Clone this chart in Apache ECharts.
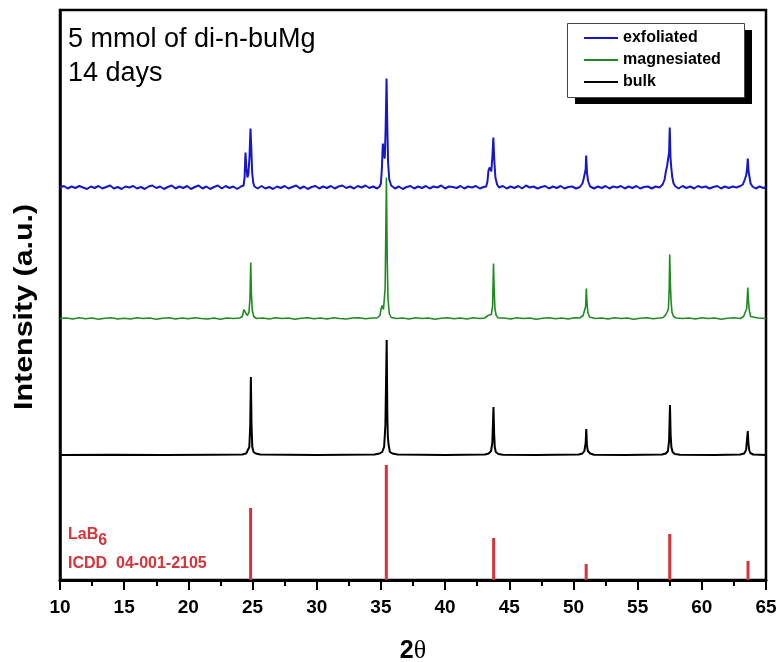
<!DOCTYPE html>
<html>
<head>
<meta charset="utf-8">
<script src="https://cdn.jsdelivr.net/npm/echarts@6/dist/echarts.min.js"></script>
<style>
html,body{margin:0;padding:0;background:#fff;}
#chart{width:780px;height:662px;}
</style>
</head>
<body>
<div id="chart"></div>
<script>
// ---- Data (2θ, intensity in a.u. above each trace's own baseline) ----
var seriesNames = ['exfoliated', 'magnesiated', 'bulk'];
var xTicks = [10, 15, 20, 25, 30, 35, 40, 45, 50, 55, 60, 65];

var exfoliated = [
[10.0,0],[10.3,1.5],[10.6,-1],[10.9,1],[11.2,-0.5],[11.5,1.5],[11.8,0],[12.1,-1.5],[12.4,1],[12.7,-0.5],[13.0,1.5],[13.3,-1],[13.6,0.5],[13.9,2],[14.2,-1],[14.5,0.5],[14.8,-1.5],[15.1,1],[15.4,0],[15.7,1.5],[16.0,-1],[16.3,0.5],[16.6,-1.5],[16.9,1],[17.2,2],[17.5,-0.5],[17.8,1],[18.1,-1.5],[18.4,0.5],[18.7,2],[19.0,-1],[19.3,1],[19.6,-0.5],[19.9,1.5],[20.2,-1.5],[20.5,0.5],[20.8,2],[21.1,-1],[21.4,1],[21.7,-1.5],[22.0,0.5],[22.3,2],[22.6,-1],[22.9,1.5],[23.2,-0.5],[23.5,1],[23.8,-1.5],[24.1,1],
[24.3,2],[24.38,10],[24.45,35],[24.52,20],[24.6,10],[24.68,14],[24.76,30],[24.84,59],[24.9,40],[24.97,15],[25.05,5],[25.15,1],
[25.4,-1],[25.7,1.5],[26.0,-1],[26.3,0.5],[26.6,-1.5],[26.9,1],[27.2,-0.5],[27.5,1.5],[27.8,-1],[28.1,0.5],[28.4,2],[28.7,-1],[29.0,1],[29.3,-1.5],[29.6,0.5],[29.9,1.5],[30.2,-1],[30.5,1],[30.8,-0.5],[31.1,1.5],[31.4,-1],[31.7,1],[32.0,2],[32.3,-0.5],[32.6,1],[32.9,-1],[33.2,1.5],[33.5,0],[33.8,2],[34.1,-0.5],[34.4,1],[34.7,-1],[34.9,1],
[35.0,4],[35.08,20],[35.15,44],[35.22,36],[35.3,29],[35.37,60],[35.44,109],[35.5,60],[35.56,25],[35.65,8],[35.8,2],
[36.1,-1],[36.4,1],[36.7,-1.5],[37.0,0.5],[37.3,1.5],[37.6,-1],[37.9,1],[38.2,-0.5],[38.5,1.5],[38.8,-1],[39.1,1],[39.4,0],[39.7,2],[40.0,-1],[40.3,1],[40.6,0.5],[40.9,-0.5],[41.2,1.5],[41.5,-1],[41.8,1],[42.1,0],[42.4,1.5],[42.7,-1],[43.0,0.5],[43.2,1],
[43.3,6],[43.38,17],[43.48,20],[43.6,16],[43.68,30],[43.76,50],[43.83,28],[43.92,10],[44.05,3],[44.2,0],
[44.5,1.5],[44.8,-1],[45.1,1],[45.4,-0.5],[45.7,1.5],[46.0,-1],[46.3,2],[46.6,0],[46.9,1],[47.2,-1],[47.5,0.5],[47.8,1.5],[48.1,-1],[48.4,1],[48.7,-0.5],[49.0,1.5],[49.3,-1],[49.6,0.5],[49.9,1],[50.2,-1],[50.5,0.5],
[50.7,4],[50.8,9],[50.9,10],[50.95,18],[50.99,32],[51.06,14],[51.15,6],[51.3,1],
[51.6,-1],[51.9,1],[52.2,-0.5],[52.5,1.5],[52.8,-1],[53.1,1],[53.4,0],[53.7,1.5],[54.0,-1],[54.3,1],[54.6,-0.5],[54.9,1.5],[55.2,-1],[55.5,0.5],[55.8,1],[56.1,-1],[56.4,1],[56.7,0],
[56.95,3],[57.1,8],[57.2,16],[57.3,22],[57.38,24],[57.45,35],[57.5,60],[57.56,30],[57.62,20],[57.7,10],[57.8,4],[57.95,1],
[58.2,-1],[58.5,1.5],[58.8,-0.5],[59.1,1],[59.4,-1],[59.7,1.5],[60.0,0],[60.3,1],[60.6,-1],[60.9,0.5],[61.2,1.5],[61.5,-1],[61.8,1],[62.1,-0.5],[62.4,1],[62.7,0],[63.0,1.5],
[63.2,3],[63.35,8],[63.45,12],[63.52,18],[63.58,29],[63.64,16],[63.72,10],[63.8,4],[63.95,1],
[64.2,-1],[64.5,1],[64.8,-0.5],[65.0,0.5]
];

var magnesiated = [
[10,0],[10.5,0.5],[11,-0.5],[11.5,0.8],[12,-0.3],[12.5,0.5],[13,-0.8],[13.5,0.3],[14,0.8],[14.5,-0.5],[15,0.3],[15.5,-0.5],[16,0.8],[16.5,0],[17,0.5],[17.5,-0.8],[18,0.3],[18.5,0.8],[19,-0.5],[19.5,0.5],[20,-0.3],[20.5,0.8],[21,0],[21.5,-0.5],[22,0.5],[22.5,-0.8],[23,0.5],[23.5,0],[24,0.5],
[24.2,2],[24.33,9],[24.45,6],[24.6,3],[24.72,6],[24.8,20],[24.86,56],[24.91,25],[24.98,8],[25.1,2],[25.3,0],
[25.8,0.5],[26.3,-0.5],[26.8,0.8],[27.3,0],[27.8,0.5],[28.3,-0.8],[28.8,0.3],[29.3,0.8],[29.8,-0.3],[30.3,0.5],[30.8,-0.5],[31.3,0.8],[31.8,0],[32.3,-0.5],[32.8,0.5],[33.3,0.8],[33.8,-0.3],[34.3,0.5],[34.7,0.5],
[34.92,3],[35.02,10],[35.1,13],[35.2,9],[35.33,30],[35.43,141],[35.49,60],[35.55,20],[35.65,5],[35.8,1],
[36.2,0],[36.7,0.5],[37.2,-0.5],[37.7,0.8],[38.2,0],[38.7,0.5],[39.2,-0.8],[39.7,0.3],[40.2,0.8],[40.7,-0.3],[41.2,0.5],[41.7,-0.5],[42.2,0.8],[42.7,0],[43.1,0.5],
[43.35,3],[43.5,5],[43.6,4],[43.7,12],[43.77,55],[43.82,30],[43.88,10],[43.98,3],[44.15,0.5],
[44.6,0.5],[45.1,-0.5],[45.6,0.8],[46.1,0],[46.6,0.5],[47.1,-0.8],[47.6,0.3],[48.1,0.8],[48.6,-0.3],[49.1,0.5],[49.6,-0.5],[50.1,0.8],[50.5,0.5],
[50.75,3],[50.88,5],[50.95,12],[51.0,30],[51.05,17],[51.12,6],[51.25,1.5],
[51.7,0],[52.2,0.5],[52.7,-0.5],[53.2,0.8],[53.7,0],[54.2,0.5],[54.7,-0.8],[55.2,0.3],[55.7,0.8],[56.2,-0.3],[56.7,0.5],[57.0,1],
[57.2,4],[57.32,7],[57.4,10],[57.46,30],[57.5,64],[57.55,35],[57.6,18],[57.68,6],[57.8,2],[58.0,0.5],
[58.5,0],[59.0,0.5],[59.5,-0.5],[60.0,0.8],[60.5,0],[61.0,0.5],[61.5,-0.8],[62.0,0.3],[62.5,0.8],[63.0,0],
[63.25,2],[63.4,4],[63.5,10],[63.58,31],[63.63,18],[63.7,8],[63.8,2],[63.95,0],
[64.4,0.5],[65,0]
];

var bulk = [
[10,0],[14,0.3],[18,0],[22,0.3],[24.2,0.5],[24.5,1.5],[24.65,3],[24.75,8],[24.82,30],[24.87,78],[24.92,30],[24.98,8],[25.08,3],[25.25,1.5],[25.6,0.5],
[30,0],[34.5,0.5],[34.9,1.5],[35.1,3],[35.25,8],[35.35,30],[35.45,115],[35.5,40],[35.54,18],[35.6,10],[35.7,3],[35.9,1.5],[36.3,0.5],
[40,0],[43.1,0.5],[43.4,1.5],[43.58,4],[43.68,12],[43.77,48],[43.82,22],[43.87,8],[43.95,3],[44.15,1],[44.5,0.3],
[47,0],[50.4,0.5],[50.7,1.5],[50.85,4],[50.95,12],[51.0,26],[51.05,10],[51.12,4],[51.3,1.5],[51.6,0.3],
[54,0],[56.9,0.5],[57.2,1.5],[57.36,4],[57.45,14],[57.52,50],[57.57,20],[57.63,8],[57.72,3],[57.9,1],[58.3,0.3],
[61,0],[63.0,0.5],[63.3,1.5],[63.45,5],[63.58,24],[63.63,12],[63.69,5],[63.78,2],[64.0,0.5],[65,0]
];

// LaB6 reference, ICDD 04-001-2105
var refPositions = [24.85, 35.42, 43.78, 50.99, 57.5, 63.6];
var refIntensities = [72, 115, 42, 16, 46, 19];

// vertical offsets of stacked traces (a.u.)
var offsets = { exfoliated: 392.5, magnesiated: 261.5, bulk: 125 };

function shift(arr, off) { return arr.map(function (p) { return [p[0], p[1] + off]; }); }

var chart = echarts.init(document.getElementById('chart'), null, { renderer: 'canvas' });

var sans = '"Liberation Sans", Arial, Helvetica, sans-serif';
var red = '#d4343a';

var option = {
  animation: false,
  backgroundColor: '#ffffff',
  grid: { left: 60, right: 14, top: 10, bottom: 82, outerBoundsMode: 'none', containLabel: false,
    show: true, borderColor: '#000', borderWidth: 2.5, backgroundColor: 'transparent' },
  xAxis: {
    type: 'value', min: 10, max: 65, interval: 5,
    axisLine: { show: true, onZero: false, lineStyle: { color: '#000', width: 3 } },
    axisTick: { show: true, inside: false, length: 10, lineStyle: { color: '#000', width: 2 } },
    minorTick: { show: true, splitNumber: 2, length: 6, lineStyle: { color: '#000', width: 2 } },
    splitLine: { show: false },
    axisLabel: { margin: 18, fontSize: 19, fontWeight: 'bold', color: '#000', fontFamily: sans,
      formatter: function (v) { return xTicks.indexOf(v) >= 0 ? String(v) : ''; } },
    name: '{a|2}{b|θ}', nameLocation: 'middle', nameGap: 58,
    nameTextStyle: { rich: {
      a: { fontSize: 25, fontWeight: 'bold', fontFamily: sans, color: '#000' },
      b: { fontSize: 26, fontFamily: '"Liberation Serif", "Times New Roman", serif', color: '#000' } } }
  },
  yAxis: {
    type: 'value', min: 0, max: 570,
    axisLine: { show: true, lineStyle: { color: '#000', width: 2.5 } },
    axisTick: { show: false }, axisLabel: { show: false }, splitLine: { show: false }
  },
  legend: {
    data: seriesNames, orient: 'vertical', left: 567, top: 23,
    padding: [7, 22, 7, 17], itemGap: 6, itemWidth: 34, itemHeight: 2, icon: 'rect',
    textStyle: { fontFamily: sans, fontWeight: 'bold', fontSize: 16, color: '#000' },
    backgroundColor: 'transparent', borderWidth: 0, z: 10
  },
  graphic: [
    { type: 'rect', left: 575, top: 30, z: 5, shape: { width: 177, height: 74 }, style: { fill: '#000' } },
    { type: 'rect', left: 567, top: 23, z: 6, shape: { width: 177, height: 74 }, style: { fill: '#fff', stroke: '#444', lineWidth: 1 } },
    { type: 'text', left: 68, top: 26, style: { text: '5 mmol of di-n-buMg', font: '27px ' + sans, fill: '#000' } },
    { type: 'text', left: 68, top: 60, style: { text: '14 days', font: '27px ' + sans, fill: '#000' } },
    { type: 'text', x: 12, y: 410, rotation: Math.PI / 2, scaleX: 1.17, style: { text: 'Intensity (a.u.)', font: 'bold 26px ' + sans, fill: '#000', align: 'left', verticalAlign: 'top' } },
    { type: 'text', left: 68, top: 527, style: { text: '{a|LaB}{s|6}', rich: {
        a: { font: 'bold 16px ' + sans, fill: red, color: red },
        s: { font: 'bold 16px ' + sans, fill: red, color: red, padding: [12, 0, 0, 0] } } } },
    { type: 'text', left: 68, top: 556, style: { text: 'ICDD  04-001-2105', font: 'bold 16px ' + sans, fill: red } }
  ],
  series: [
    { name: 'exfoliated', type: 'line', data: shift(exfoliated, offsets.exfoliated), symbol: 'none',
      lineStyle: { color: '#1717c8', width: 2 }, itemStyle: { color: '#1717c8' }, z: 3 },
    { name: 'magnesiated', type: 'line', data: shift(magnesiated, offsets.magnesiated), symbol: 'none',
      lineStyle: { color: '#1f8a22', width: 1.6 }, itemStyle: { color: '#1f8a22' }, z: 3 },
    { name: 'bulk', type: 'line', data: shift(bulk, offsets.bulk), symbol: 'none',
      lineStyle: { color: '#000', width: 2 }, itemStyle: { color: '#000' }, z: 3 },
    { name: 'LaB6', type: 'bar', barWidth: 3, data: refPositions.map(function (x, i) { return [x, refIntensities[i]]; }),
      itemStyle: { color: red }, z: 2 }
  ]
};
chart.setOption(option);
</script>
</body>
</html>
